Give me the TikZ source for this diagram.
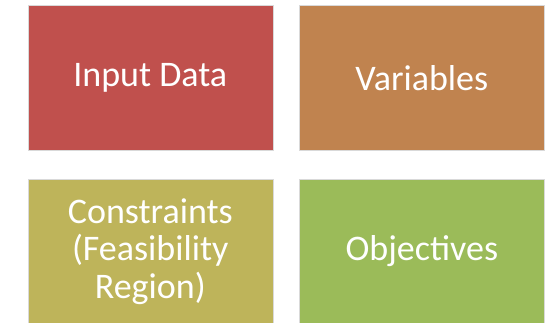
\documentclass[tikz,border=0pt]{standalone}
\usepackage{fontspec}
\setmainfont{Carlito}
\definecolor{cred}{HTML}{C0504D}
\definecolor{corange}{HTML}{C0834F}
\definecolor{colive}{HTML}{BEB45A}
\definecolor{cgreen}{HTML}{9BBB59}
\begin{document}
\begin{tikzpicture}[x=1pt,y=-1pt,
  tile/.style={draw=white!85!black, line width=0.6pt, minimum width=245pt, minimum height=145pt, inner sep=0pt, anchor=north west, text=white, align=center, font=\fontsize{36}{37.5}\selectfont}]
\useasboundingbox (0,0) rectangle (545,323);
\node[tile, fill=cred] (input) at (27.5,5.5) {Input Data};
\node[tile, fill=corange] (vars) at (299,5.5) {Variables};
\node[tile, fill=colive] (cons) at (27.5,178.5) {Constraints\\(Feasibility\\Region)};
\node[tile, fill=cgreen] (obj) at (299,178.5) {Objectives};
\end{tikzpicture}
\end{document}
